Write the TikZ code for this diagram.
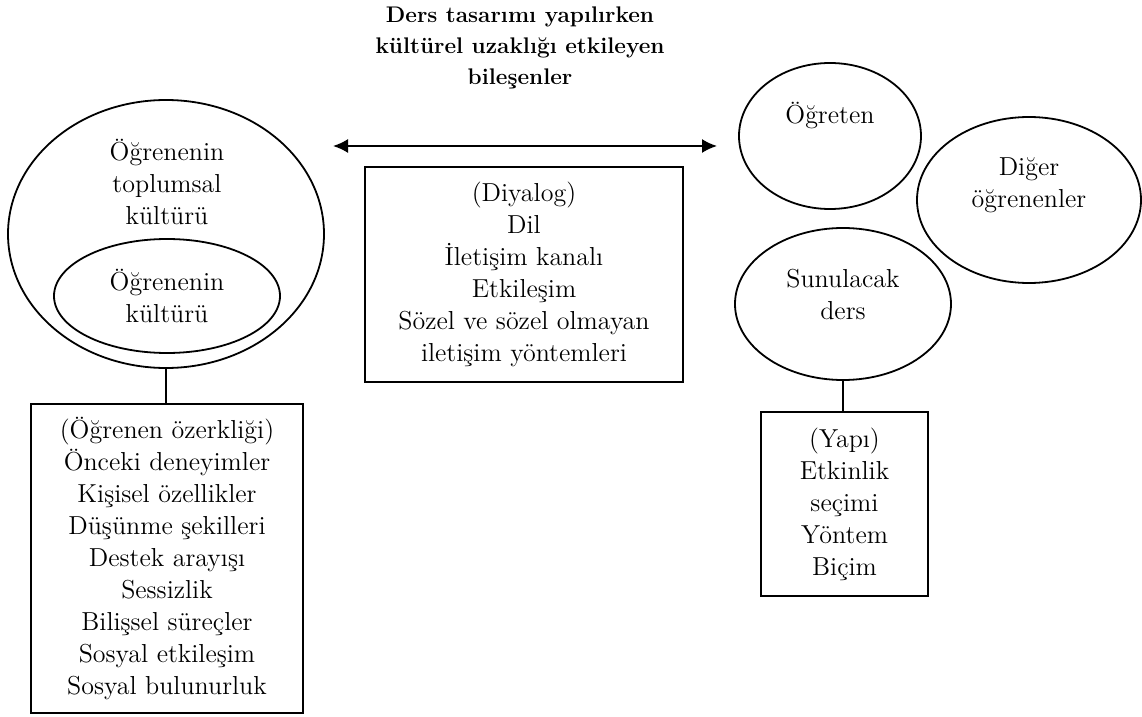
\documentclass[tikz,border=0pt]{standalone}
\usetikzlibrary{shapes.geometric,arrows.meta}

\begin{document}
\begin{tikzpicture}[
      x=0.5pt, y=-0.5pt,
      every node/.style={font=\fontsize{13}{16}\selectfont, align=center},
      oval/.style={ellipse, draw, line width=0.9pt, inner sep=0pt},
      listbox/.style={rectangle, draw, line width=0.9pt, inner sep=0pt},
      lbl/.style={inner sep=0pt},
      link/.style={line width=0.9pt},
      both/.style={line width=0.9pt, {Latex[length=7.5pt,width=7pt]}-{Latex[length=7.5pt,width=7pt]}}
    ]
    \useasboundingbox (0,0) rectangle (1142,717);

    % Title on top
    \node[lbl, font=\fontsize{11.3}{15.5}\selectfont\bfseries] (title) at (520,48)
      {Ders tasarımı yapılırken\\kültürel uzaklığı etkileyen\\bileşenler};

    % Left side: the learner, nested ellipses
    \node[oval, minimum width=158pt, minimum height=134pt] (society) at (166,234) {};
    \node[lbl] (societytxt) at (167,182) {Öğrenenin\\toplumsal\\kültürü};
    \node[oval, minimum width=113pt, minimum height=57pt] (learner) at (167,296)
      {Öğrenenin\\kültürü};

    % box under the learner
    \node[listbox, minimum width=136pt, minimum height=154.5pt] (autonomy) at (167,558.5)
      {(Öğrenen özerkliği)\\Önceki deneyimler\\Kişisel özellikler\\Düşünme şekilleri\\
       Destek arayışı\\Sessizlik\\Bilişsel süreçler\\Sosyal etkileşim\\Sosyal bulunurluk};
    \draw[link] (society.south) -- (society.south |- autonomy.north);

    % Middle: the dialogue
    \coordinate (arrL) at (333,146);
    \coordinate (arrR) at (717,146);
    \draw[both] (arrL) -- (arrR);
    \node[listbox, minimum width=159pt, minimum height=107.5pt] (dialog) at (524,274.5)
      {(Diyalog)\\Dil\\İletişim kanalı\\Etkileşim\\Sözel ve sözel olmayan\\iletişim yöntemleri};

    % Right side: teacher, other learners, lesson
    \node[oval, minimum width=91pt, minimum height=73pt] (teacher) at (830,136) {};
    \node[lbl] (teachertxt) at (830,115) {Öğreten};
    \node[oval, minimum width=112pt, minimum height=83pt] (others) at (1029,200) {};
    \node[lbl] (otherstxt) at (1029,185) {Diğer\\öğrenenler};
    \node[oval, minimum width=108pt, minimum height=76pt] (lesson) at (843,304) {};
    \node[lbl] (lessontxt) at (843,294) {Sunulacak\\ders};

    % box under the lesson
    \node[listbox, minimum width=83.5pt, minimum height=92pt] (structure) at (844.5,504)
      {(Yapı)\\Etkinlik\\seçimi\\Yöntem\\Biçim};
    \draw[link] (lesson.south) -- (lesson.south |- structure.north);
\end{tikzpicture}
\end{document}
